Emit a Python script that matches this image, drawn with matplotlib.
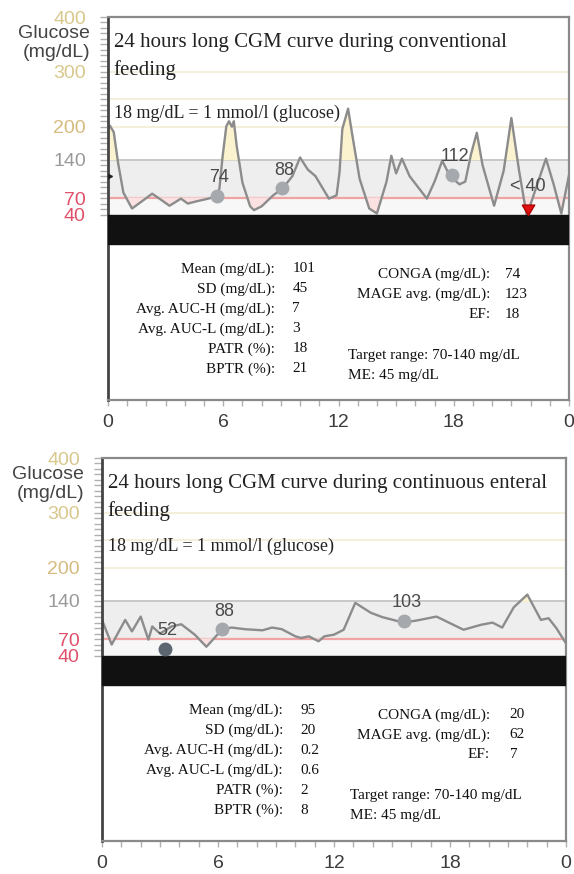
import matplotlib.pyplot as plt
import numpy as np
from matplotlib.ticker import FixedLocator, MultipleLocator

plt.rcParams['font.family'] = ['Liberation Sans', 'DejaVu Sans']

# 24 h CGM trace, conventional feeding (hour of day, mg/dL)
conv_hours = [0.0, 0.1, 0.3, 0.52, 0.8, 1.25, 1.8, 2.3, 2.8, 3.2, 3.8, 4.15, 4.6, 5.1,
              5.65, 5.8, 5.97, 6.16, 6.3, 6.45, 6.55, 6.7, 7.0, 7.4, 7.6, 8.0, 8.6,
              9.1, 9.6, 10.0, 10.4, 10.8, 11.5, 11.9, 12.05, 12.2, 12.5, 12.7, 13.1,
              13.6, 14.0, 14.5, 14.75, 15.0, 15.3, 15.7, 16.6, 17.0, 17.4, 17.8, 18.3,
              18.6, 18.9, 19.2, 19.5, 20.1, 20.6, 21.0, 21.4, 21.8, 22.3, 22.8, 23.2,
              23.6, 24.0]
conv_glucose = [195, 202, 190, 135, 80, 51, 65, 78, 66, 56, 69, 60, 64, 68,
                73, 87, 147, 201, 210, 200, 210, 165, 98, 55, 48, 55, 75,
                88, 110, 144, 122, 110, 69, 75, 116, 196, 233, 189, 105,
                51, 42, 100, 147, 115, 142, 110, 69, 100, 138, 110, 95,
                100, 150, 189, 130, 56, 120, 216, 120, 38, 90, 142, 95,
                42, 112]
conv_calib_hours = [5.65, 9.05, 17.9]
conv_calib_values = [74, 88, 112]
conv_low_hour = 21.85

# 24 h CGM trace, continuous enteral feeding
cont_hours = [0.0, 0.5, 1.2, 1.55, 2.0, 2.4, 2.6, 3.0, 3.6, 4.1, 4.8, 5.4, 6.2, 6.7,
              7.4, 8.3, 8.8, 9.3, 10.0, 10.3, 10.7, 11.2, 11.5, 12.0, 12.5, 13.1,
              13.9, 14.5, 15.6, 16.3, 17.3, 18.7, 19.6, 20.2, 20.7, 21.3, 22.0,
              22.7, 23.1, 23.5, 24.0]
cont_glucose = [105, 60, 105, 84, 111, 69, 93, 80, 93, 97, 78, 56, 87, 91,
                88, 86, 91, 88, 75, 72, 75, 66, 75, 78, 87, 136,
                118, 110, 100, 104, 111, 87, 96, 100, 91, 128, 151,
                105, 108, 90, 62]
cont_calib_hours = [3.25, 6.2, 15.6]
cont_calib_values = [52, 88, 103]

# summary statistics
left_labels = ['Mean (mg/dL):', 'SD (mg/dL):', 'Avg. AUC-H (mg/dL):',
               'Avg. AUC-L (mg/dL):', 'PATR (%):', 'BPTR (%):']
conv_left_values = ['101', '45', '7', '3', '18', '21']
cont_left_values = ['95', '20', '0.2', '0.6', '2', '8']
right_labels = ['CONGA (mg/dL):', 'MAGE avg. (mg/dL):', 'EF:']
conv_right_values = ['74', '123', '18']
cont_right_values = ['20', '62', '7']
footer_lines = ['Target range: 70-140 mg/dL', 'ME: 45 mg/dL']

ytick_values = [40, 70, 140, 200, 300, 400]
ytick_colors = ['#e0506a', '#e0506a', '#9a9a9a', '#d6bb7e', '#d8c88c', '#d8c88c']
xtick_values = [0, 6, 12, 18, 24]
xtick_labels = ['0', '6', '12', '18', '0']

SERIF = ['Liberation Serif', 'DejaVu Serif']


def draw_panel(ax, hours, glucose, calib_h, calib_v, calib_colors, title, conv_y,
               lx, vx, rx, rvx, fx, left_values, right_values):
    ax.set_xlim(0, 24)
    ax.set_ylim(-298, 400)

    # target range band and reference lines
    ax.axhspan(70, 140, color='#eeeeee', zorder=0)
    ax.axhspan(40, 70, color='#f7f7f7', zorder=0)
    for lvl in (200, 250, 300):
        ax.axhline(lvl, color='#f1ecd4', lw=1.2, zorder=1)
    ax.axhline(140, color='#c4c4c4', lw=1.3, zorder=1)
    ax.axhline(70, color='#f0a3a3', lw=1.6, zorder=1)

    h = np.array(hours, dtype=float)
    g = np.array(glucose, dtype=float)
    ax.fill_between(h, 140, g, where=g > 140, interpolate=True, color='#fbf3cf', zorder=1.5)
    ax.fill_between(h, 70, g, where=g < 70, interpolate=True, color='#fbe1e1', zorder=1.5)
    ax.plot(h, g, color='#8c8c8c', lw=1.7, zorder=2, solid_joinstyle='round')

    # sensor floor band
    ax.axhspan(-14, 40, color='#111111', zorder=3)

    # fingerstick calibration points
    for ch, cv, cc in zip(calib_h, calib_v, calib_colors):
        ax.plot(ch, cv, 'o', ms=9, color=cc, zorder=4)
        ax.annotate(str(cv), (ch, cv), xytext=(2, 13), textcoords='offset points',
                    ha='center', va='center', fontsize=13, color='#4a4a4a', zorder=5)

    ax.text(0.012, 1 - 25 / 383, title[0], transform=ax.transAxes, family=SERIF,
            fontsize=15, color='#222222', va='center', ha='left')
    ax.text(0.012, 1 - 53 / 383, title[1], transform=ax.transAxes, family=SERIF,
            fontsize=15, color='#222222', va='center', ha='left')
    ax.text(0.012, conv_y, '18 mg/dL = 1 mmol/l (glucose)', transform=ax.transAxes,
            family=SERIF, fontsize=13, color='#222222', va='center', ha='left')

    # statistics block
    for i, (lab, val) in enumerate(zip(left_labels, left_values)):
        y = 1 - (252 + 20 * i) / 383
        ax.text(lx, y, lab, transform=ax.transAxes, family=SERIF, fontsize=11,
                ha='right', va='center', color='#111111')
        ax.text(vx, y, val, transform=ax.transAxes, family=SERIF, fontsize=11,
                ha='left', va='center', color='#111111')
    for i, (lab, val) in enumerate(zip(right_labels, right_values)):
        y = 1 - (257 + 20 * i) / 383
        ax.text(rx, y, lab, transform=ax.transAxes, family=SERIF, fontsize=11,
                ha='right', va='center', color='#111111')
        ax.text(rvx, y, val, transform=ax.transAxes, family=SERIF, fontsize=11,
                ha='left', va='center', color='#111111')
    for i, line in enumerate(footer_lines):
        y = 1 - (338 + 20 * i) / 383
        ax.text(fx, y, line, transform=ax.transAxes, family=SERIF, fontsize=11,
                ha='left', va='center', color='#111111')

    # axes styling
    for side in ('top', 'right', 'bottom'):
        ax.spines[side].set_color('#8a8a8a')
        ax.spines[side].set_linewidth(1.6)
    ax.spines['left'].set_color('#444444')
    ax.spines['left'].set_linewidth(2.0)

    ax.yaxis.set_major_locator(FixedLocator(ytick_values))
    ax.yaxis.set_minor_locator(FixedLocator(np.arange(40, 401, 10)))
    ax.set_yticklabels([str(v) for v in ytick_values])
    for lab, c in zip(ax.get_yticklabels(), ytick_colors):
        lab.set_color(c)
    ax.tick_params(axis='y', which='both', length=6, width=1, color='#b0b0b0',
                   labelsize=14, pad=10)

    ax.set_xticks(xtick_values)
    ax.set_xticklabels(xtick_labels)
    ax.xaxis.set_minor_locator(MultipleLocator(1))
    ax.tick_params(axis='x', which='both', length=4, width=1, color='#b0b0b0',
                   labelsize=14, labelcolor='#3c3c3c', pad=6)

    ax.text(-0.039, 1 - 26 / 383, 'Glucose\n(mg/dL)', transform=ax.transAxes,
            fontsize=14, color='#444444', ha='right', va='center',
            multialignment='right', linespacing=1.15)


fig = plt.figure(figsize=(5.74, 8.74), dpi=100)

ax1 = fig.add_axes([108 / 574, 474 / 874, 461 / 574, 383 / 874])
draw_panel(ax1, conv_hours, conv_glucose, conv_calib_hours, conv_calib_values,
           ['#a5a9ad'] * 3,
           ['24 hours long CGM curve during conventional', 'feeding'], 1 - 96 / 383,
           0.362, 0.400, 0.829, 0.861, 0.521, conv_left_values, conv_right_values)

# reading below the sensor floor
low_marker = [(-0.6, 1.0), (0.6, 1.0), (0.0, 0.0), (-0.6, 1.0)]
ax1.plot(conv_low_hour, 40, marker=low_marker, ms=15, color='#e01010',
         markeredgecolor='#b00000', zorder=5, clip_on=False)
ax1.annotate('< 40', (conv_low_hour, 40), xytext=(0, 20), textcoords='offset points',
             ha='center', va='center', fontsize=13, color='#4a4a4a', zorder=5)
ax1.plot(0.05, 110, marker='>', ms=5, color='#222222', zorder=5)

ax2 = fig.add_axes([102 / 574, 33 / 874, 464 / 574, 383 / 874])
draw_panel(ax2, cont_hours, cont_glucose, cont_calib_hours, cont_calib_values,
           ['#5c6670', '#a5a9ad', '#a5a9ad'],
           ['24 hours long CGM curve during continuous enteral', 'feeding'], 1 - 88 / 383,
           0.390, 0.427, 0.836, 0.879, 0.534, cont_left_values, cont_right_values)

fig.savefig('out.png', dpi=100)
